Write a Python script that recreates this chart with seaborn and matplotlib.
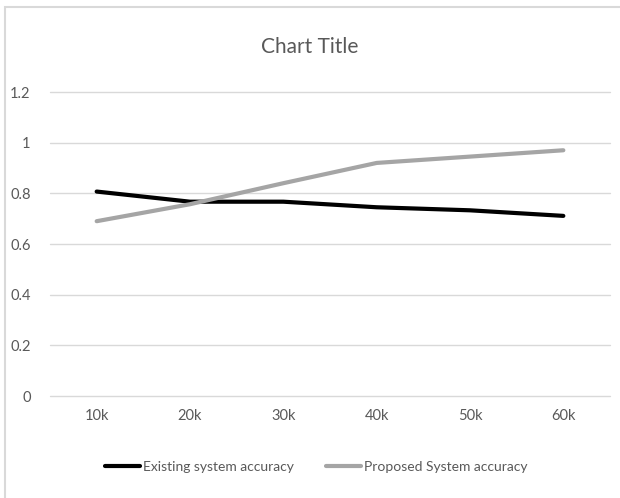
import matplotlib
matplotlib.use("Agg")
import matplotlib.pyplot as plt
import matplotlib.patches as mpatches
import seaborn as sns
import pandas as pd

sizes = ["10k", "20k", "30k", "40k", "50k", "60k"]
existing = [0.807, 0.767, 0.767, 0.745, 0.733, 0.711]
proposed = [0.690, 0.757, 0.840, 0.920, 0.945, 0.970]
series_names = ["Existing system accuracy", "Proposed System accuracy"]
yticks = [0, 0.2, 0.4, 0.6, 0.8, 1, 1.2]
ytick_labels = ["0", "0.2", "0.4", "0.6", "0.8", "1", "1.2"]

sns.set_theme(style="white")
plt.rcParams["font.family"] = ["Lato", "DejaVu Sans"]

df = pd.DataFrame({
    "size": sizes * 2,
    "accuracy": existing + proposed,
    "series": [series_names[0]] * len(sizes) + [series_names[1]] * len(sizes),
})

fig = plt.figure(figsize=(6.2, 4.98), dpi=100)
ax = fig.add_axes([50 / 620, 1 - 396 / 498, 560 / 620, (396 - 92) / 498])

# chart border (only top/left edges fall inside the image)
fig.patches.append(mpatches.Rectangle((5 / 620, -0.1), 1.5, 1 - 7.5 / 498 + 0.1,
                                      transform=fig.transFigure, fill=False,
                                      edgecolor="#d9d9d9", linewidth=1.5))

sns.lineplot(data=df, x="size", y="accuracy", hue="series",
             palette=["#000000", "#a5a5a5"], linewidth=3.0, ax=ax,
             legend=False, sort=False)

ax.set_xlim(-0.5, len(sizes) - 0.5)
ax.set_ylim(0, 1.2)
ax.set_yticks(yticks)
ax.set_yticklabels(ytick_labels)
ax.yaxis.grid(True, color="#d9d9d9", linewidth=1)
for gl in ax.get_ygridlines():
    gl.set_clip_on(False)
ax.xaxis.grid(False)
ax.set_axisbelow(True)
for s in ax.spines.values():
    s.set_visible(False)
ax.tick_params(axis="both", length=0, labelsize=10.5, labelcolor="#595959")
ax.tick_params(axis="y", pad=14)
ax.tick_params(axis="x", pad=9)
ax.set_xlabel("")
ax.set_ylabel("")

fig.text(0.5, 1 - 47 / 498, "Chart Title", ha="center", va="center",
         fontsize=15, color="#595959")

handles = [plt.Line2D([], [], color="#000000", lw=3.0),
           plt.Line2D([], [], color="#a5a5a5", lw=3.0)]
fig.legend(handles, series_names, loc="center", bbox_to_anchor=(0.51, 1 - 467 / 498),
           ncol=2, frameon=False, fontsize=10, labelcolor="#595959",
           handlelength=2.5, handletextpad=0.25, columnspacing=2.3)

fig.savefig("out.png", dpi=100, facecolor="white")
